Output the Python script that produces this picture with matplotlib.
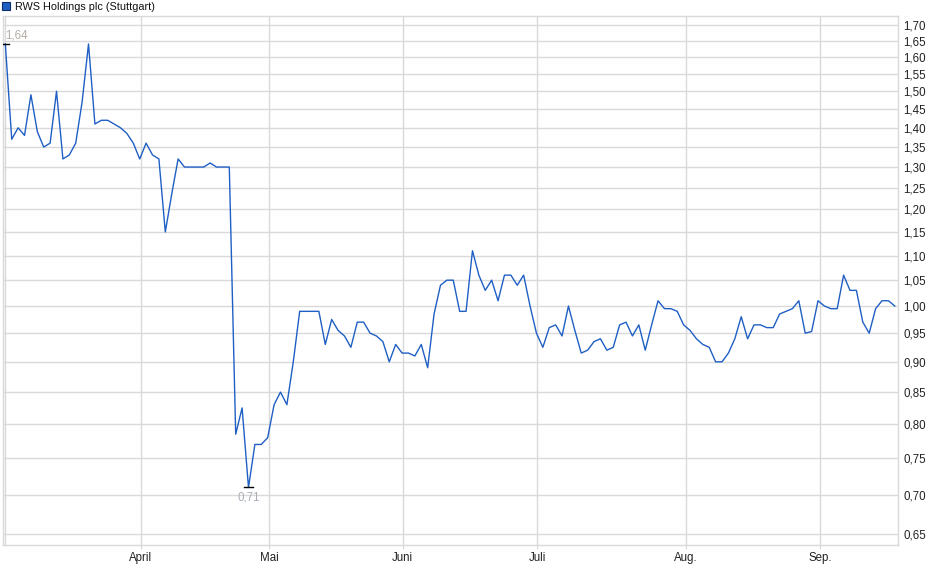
import numpy as np
import matplotlib
matplotlib.use("Agg")
from matplotlib import pyplot as plt
from matplotlib.ticker import FixedLocator, NullLocator

plt.rcParams['font.family'] = ['Liberation Sans', 'DejaVu Sans']

# daily closing prices (trading days)
prices = [1.64, 1.37, 1.40, 1.38, 1.49, 1.39, 1.35, 1.36, 1.50, 1.32,
          1.33, 1.36, 1.47, 1.64, 1.41, 1.42, 1.42, 1.41, 1.40, 1.385,
          1.36, 1.32, 1.36, 1.33, 1.32, 1.15, 1.235, 1.32, 1.30, 1.30,
          1.30, 1.30, 1.31, 1.30, 1.30, 1.30, 0.785, 0.825, 0.71, 0.77,
          0.77, 0.78, 0.83, 0.85, 0.83, 0.90, 0.99, 0.99, 0.99, 0.99,
          0.93, 0.975, 0.955, 0.945, 0.925, 0.97, 0.97, 0.95, 0.945, 0.935,
          0.90, 0.93, 0.915, 0.915, 0.91, 0.93, 0.89, 0.985, 1.04, 1.05,
          1.05, 0.99, 0.99, 1.11, 1.06, 1.03, 1.05, 1.01, 1.06, 1.06,
          1.04, 1.06, 1.00, 0.95, 0.925, 0.96, 0.965, 0.945, 1.00, 0.955,
          0.915, 0.92, 0.935, 0.94, 0.92, 0.925, 0.965, 0.97, 0.945, 0.965,
          0.92, 0.965, 1.01, 0.995, 0.995, 0.99, 0.965, 0.955, 0.94, 0.93,
          0.925, 0.90, 0.90, 0.915, 0.94, 0.98, 0.94, 0.965, 0.965, 0.96,
          0.96, 0.985, 0.99, 0.995, 1.01, 0.95, 0.953, 1.01, 1.00, 0.995,
          0.995, 1.06, 1.03, 1.03, 0.97, 0.95, 0.995, 1.01, 1.01, 1.00]

month_pos = [21.2, 41.2, 62.1, 83.1, 106.4, 127.3]
month_labels = ["April", "Mai", "Juni", "Juli", "Aug.", "Sep."]
y_ticks = [0.65, 0.70, 0.75, 0.80, 0.85, 0.90, 0.95, 1.00, 1.05, 1.10, 1.15,
           1.20, 1.25, 1.30, 1.35, 1.40, 1.45, 1.50, 1.55, 1.60, 1.65, 1.70]

title = "RWS Holdings plc (Stuttgart)"
line_col = "#1f5fc4"
grid_col = "#d9d9d9"

x = np.arange(len(prices))
i_hi = 0
i_lo = int(np.argmin(prices))

W, H = 940, 579
fig = plt.figure(figsize=(W / 100, H / 100), dpi=100)
ax = fig.add_axes([2.7 / W, 1 - 545.3 / H, (898 - 2.7) / W, (545.3 - 16) / H])

ax.plot(x, prices, color=line_col, lw=1.0, zorder=3)

ax.set_yscale("log")
ax.set_ylim(0.6365, 1.729)
ax.set_xlim(-0.41, 139.5)

ax.yaxis.set_major_locator(FixedLocator(y_ticks))
ax.yaxis.set_minor_locator(NullLocator())
ax.set_yticklabels([("%.2f" % v).replace(".", ",") for v in y_ticks])
ax.yaxis.tick_right()
ax.tick_params(axis="y", length=0, pad=4, labelsize=8.3, labelcolor="#222222")

ax.xaxis.set_major_locator(FixedLocator(month_pos))
ax.xaxis.set_minor_locator(NullLocator())
ax.set_xticklabels(month_labels)
ax.tick_params(axis="x", length=3, color=grid_col, pad=2, labelsize=8.3,
               labelcolor="#222222")

ax.grid(True, color=grid_col, lw=1.0, zorder=0)
ax.axvline(0, color=grid_col, lw=1.0, zorder=0)
for s in ax.spines.values():
    s.set_color(grid_col)
    s.set_linewidth(1.0)

# high / low markers
ax.plot([i_hi - 0.6, i_hi + 0.6], [prices[i_hi]] * 2, color="black", lw=1.0, zorder=4)
ax.plot([i_lo - 0.7, i_lo + 0.7], [prices[i_lo]] * 2, color="black", lw=1.0, zorder=4)
ax.annotate(("%.2f" % prices[i_hi]).replace(".", ","), (i_hi, prices[i_hi]),
            xytext=(0, 1.5), textcoords="offset points", ha="left", va="bottom",
            fontsize=8.3, color="#b5aca4")
ax.annotate(("%.2f" % prices[i_lo]).replace(".", ","), (i_lo, prices[i_lo]),
            xytext=(0, -3), textcoords="offset points", ha="center", va="top",
            fontsize=8.3, color="#a8aeb8")

# legend box
fig.patches.append(plt.Rectangle((2 / W, 1 - 10 / H), 8 / W, 8 / H,
                                 transform=fig.transFigure, facecolor=line_col,
                                 edgecolor="#0d2f66", lw=0.8))
fig.text(15 / W, 1 - 6.5 / H, title, ha="left", va="center", fontsize=7.8,
         color="#111111")

fig.savefig("out.png", dpi=100)
